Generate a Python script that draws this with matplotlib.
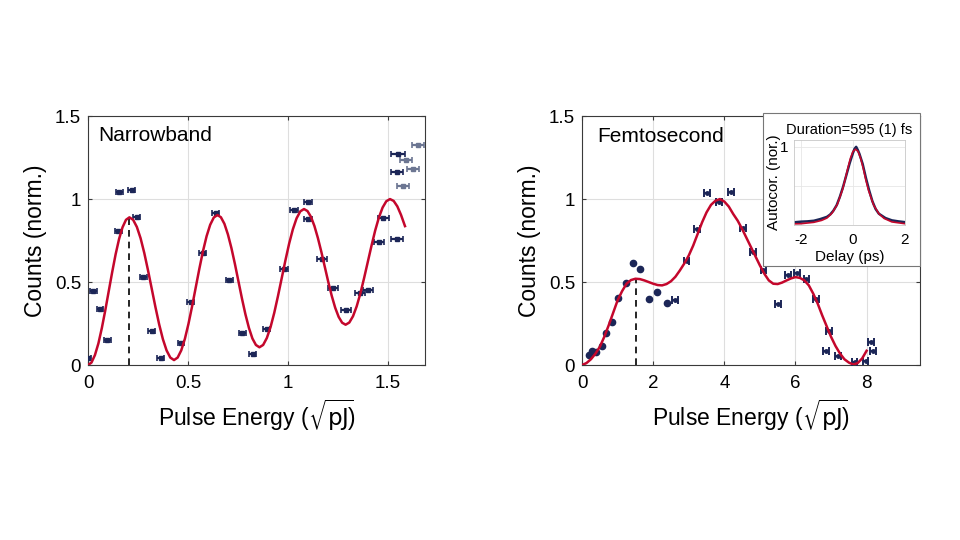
import numpy as np
import matplotlib
matplotlib.use('Agg')
import matplotlib.pyplot as plt
from matplotlib.patches import Rectangle

plt.rcParams['font.family'] = ['Liberation Sans', 'DejaVu Sans']

navy = '#1c2657'
grey = '#6c7692'
red = '#c4072c'

# ---- Narrowband data ----
nb_x = [0.0, 0.027, 0.06, 0.097, 0.152, 0.157, 0.218, 0.243, 0.277, 0.318, 0.363,
        0.465, 0.513, 0.573, 0.638, 0.707, 0.772, 0.823, 0.893, 0.98, 1.03, 1.098,
        1.098, 1.168, 1.227, 1.288, 1.36, 1.398, 1.455, 1.477, 1.543, 1.543, 1.552]
nb_y = [0.044, 0.446, 0.337, 0.15, 0.81, 1.04, 1.054, 0.893, 0.532, 0.205, 0.04,
        0.13, 0.381, 0.673, 0.918, 0.51, 0.195, 0.064, 0.217, 0.58, 0.934, 0.98,
        0.878, 0.637, 0.462, 0.331, 0.436, 0.452, 0.741, 0.887, 0.759, 1.163, 1.271]
nb_xerr = [0.017, 0.017, 0.017, 0.017, 0.017, 0.017, 0.017, 0.017, 0.017, 0.017, 0.017,
           0.017, 0.017, 0.017, 0.017, 0.017, 0.017, 0.017, 0.017, 0.02, 0.02, 0.02,
           0.02, 0.025, 0.025, 0.025, 0.025, 0.025, 0.025, 0.028, 0.03, 0.03, 0.035]
nb_grey_x = [1.59, 1.573, 1.627, 1.648]
nb_grey_y = [1.235, 1.08, 1.183, 1.323]
nb_grey_xerr = [0.03, 0.03, 0.03, 0.03]

nb_fit_x = [0, 0.0173, 0.0345, 0.0518, 0.069, 0.0863, 0.1035, 0.1208, 0.138, 0.1553,
            0.1725, 0.1898, 0.207,
            0.2256, 0.2442, 0.2628, 0.2813, 0.2999, 0.3185, 0.3371, 0.3557, 0.3743,
            0.3928, 0.4114, 0.43,
            0.4481, 0.4662, 0.4843, 0.5023, 0.5204, 0.5385, 0.5566, 0.5747, 0.5928,
            0.6108, 0.6289, 0.647,
            0.6645, 0.682, 0.6995, 0.717, 0.7345, 0.752, 0.7695, 0.787, 0.8045,
            0.822, 0.8395, 0.857,
            0.8756, 0.8942, 0.9128, 0.9313, 0.9499, 0.9685, 0.9871, 1.0057, 1.0243,
            1.0428, 1.0614, 1.08,
            1.0973, 1.1147, 1.132, 1.1493, 1.1667, 1.184, 1.2013, 1.2187, 1.236,
            1.2533, 1.2707, 1.288,
            1.3065, 1.325, 1.3435, 1.362, 1.3805, 1.399, 1.4175, 1.436, 1.4545,
            1.473, 1.4915, 1.51,
            1.5283, 1.5467, 1.565, 1.585]
nb_fit_y = [0, 0.015, 0.06, 0.13, 0.2225, 0.33, 0.445, 0.56, 0.6675, 0.76,
            0.83, 0.875, 0.89,
            0.875, 0.832, 0.764, 0.675, 0.571, 0.46, 0.349, 0.245, 0.156,
            0.088, 0.045, 0.03,
            0.045, 0.0886, 0.158, 0.2485, 0.354, 0.467, 0.58, 0.6855, 0.776,
            0.845, 0.889, 0.904,
            0.8905, 0.851, 0.787, 0.705, 0.609, 0.5055, 0.402, 0.306, 0.224,
            0.16, 0.121, 0.107,
            0.121, 0.163, 0.229, 0.315, 0.416, 0.5235, 0.631, 0.732, 0.818,
            0.884, 0.926, 0.94,
            0.928, 0.893, 0.838, 0.766, 0.682, 0.5915, 0.501, 0.417, 0.345,
            0.29, 0.255, 0.243,
            0.256, 0.294, 0.354, 0.432, 0.524, 0.6215, 0.719, 0.811, 0.889,
            0.949, 0.987, 1.0,
            0.989, 0.956, 0.905, 0.837]
nb_peak = (0.207, 0.89)

# ---- Femtosecond data ----
fs_dot_x = [0.197, 0.29, 0.393, 0.552, 0.674, 0.833, 1.02, 1.226, 1.42, 1.628,
            1.88, 2.096, 2.377]
fs_dot_y = [0.06, 0.086, 0.078, 0.116, 0.195, 0.257, 0.404, 0.492, 0.612, 0.58,
            0.398, 0.442, 0.376]
fs_bar_x = [2.61, 2.938, 3.237, 3.518, 3.846, 4.183, 4.528, 4.809, 5.1, 5.51,
            5.79, 6.04, 6.31, 6.57, 6.94, 6.85, 7.19, 7.66, 7.97, 8.13, 8.18]
fs_bar_y = [0.392, 0.627, 0.819, 1.038, 0.984, 1.044, 0.823, 0.683, 0.57, 0.367,
            0.542, 0.556, 0.516, 0.398, 0.205, 0.086, 0.054, 0.016, 0.024, 0.14, 0.086]

fs_fit_x = [0, 0.125, 0.25, 0.375, 0.5, 0.625, 0.75, 0.875, 1.0, 1.125, 1.25, 1.375,
            1.5, 1.625, 1.75, 1.875, 2.0, 2.125, 2.25, 2.375, 2.5, 2.625, 2.75, 2.875,
            3.0, 3.125, 3.25, 3.375, 3.5, 3.625, 3.75, 3.875, 4.0, 4.125, 4.25, 4.375,
            4.5, 4.625, 4.75, 4.875, 5.0, 5.125, 5.25, 5.375, 5.5, 5.625, 5.75, 5.875,
            6.0, 6.125, 6.25, 6.375, 6.5, 6.625, 6.75, 6.875, 7.0, 7.125, 7.25, 7.375,
            7.5, 7.625, 7.75, 7.875, 8.0]
fs_fit_y = [0, 0.012, 0.035, 0.068, 0.11, 0.17, 0.24, 0.315, 0.39, 0.445, 0.49, 0.512,
            0.52, 0.518, 0.51, 0.5, 0.49, 0.482, 0.48, 0.488, 0.505, 0.532, 0.57, 0.612,
            0.66, 0.72, 0.79, 0.86, 0.92, 0.965, 0.99, 1.0, 0.985, 0.955, 0.91, 0.87,
            0.82, 0.765, 0.71, 0.655, 0.6, 0.55, 0.51, 0.49, 0.488, 0.497, 0.51, 0.522,
            0.53, 0.525, 0.51, 0.48, 0.43, 0.37, 0.3, 0.235, 0.17, 0.115, 0.07, 0.035,
            0.015, 0.003, 0.012, 0.04, 0.086]
fs_peak = (1.52, 0.52)

# ---- Autocorrelation inset ----
ac_x = [-2.27, -2.0, -1.75, -1.5, -1.25, -1.0, -0.875, -0.75, -0.625, -0.5, -0.375,
        -0.25, -0.125, 0.0, 0.0625, 0.125, 0.1875, 0.25, 0.375, 0.5, 0.625, 0.75,
        0.875, 1.0, 1.25, 1.5, 1.75, 2.0]
ac_y = [0.03, 0.038, 0.042, 0.05, 0.072, 0.1, 0.13, 0.18, 0.25, 0.36, 0.49,
        0.64, 0.79, 0.92, 0.975, 1.0, 0.96, 0.91, 0.78, 0.6, 0.44, 0.3,
        0.2, 0.14, 0.085, 0.055, 0.042, 0.032]
ac_fit_x = [-2.27, -2.0, -1.5, -1.2, -1.0, -0.8, -0.6, -0.4, -0.3, -0.2, -0.1, 0.0,
            0.1, 0.2, 0.3, 0.4, 0.5, 0.6, 0.8, 1.0, 1.2, 1.5, 2.0]
ac_fit_y = [0.01, 0.012, 0.03, 0.055, 0.085, 0.15, 0.26, 0.45, 0.58, 0.72, 0.85, 0.94,
            0.97, 0.94, 0.85, 0.72, 0.57, 0.44, 0.25, 0.14, 0.08, 0.035, 0.012]


def style_axes(ax, tick_size=13.5):
    for s in ax.spines.values():
        s.set_color('#3a3a3a')
        s.set_linewidth(0.8)
    ax.tick_params(direction='in', top=True, right=True, length=3, width=0.8,
                   labelsize=tick_size, colors='#3a3a3a', labelcolor='black')
    ax.tick_params(axis='x', pad=7)
    ax.tick_params(axis='y', pad=5)
    ax.grid(True, color='#dedede', linewidth=0.8)
    ax.set_axisbelow(True)


xlab = r'Pulse Energy ($\sqrt{\mathrm{pJ}}\!$)'

fig = plt.figure(figsize=(9.6, 5.4), dpi=100)

# Narrowband panel
ax1 = fig.add_axes([0.0917, 0.324, 0.351, 0.461])
style_axes(ax1)
ax1.errorbar(nb_x, nb_y, xerr=nb_xerr, fmt='s', color=navy, ms=3, elinewidth=1.6,
             capsize=2.5, capthick=1.2, zorder=3)
ax1.errorbar(nb_grey_x, nb_grey_y, xerr=nb_grey_xerr, fmt='s', color=grey, ms=3,
             elinewidth=1.6, capsize=2.5, capthick=1.2, zorder=3)
ax1.plot(nb_fit_x, nb_fit_y, color=red, lw=1.8, zorder=4)
ax1.plot([nb_peak[0], nb_peak[0]], [0, nb_peak[1]], color='black', lw=1.2,
         ls=(0, (4, 3)), zorder=2)
ax1.set_xlim(0, 1.685)
ax1.set_ylim(0, 1.5)
ax1.set_xticks([0, 0.5, 1, 1.5])
ax1.set_xticklabels(['0', '0.5', '1', '1.5'])
ax1.set_yticks([0, 0.5, 1, 1.5])
ax1.set_yticklabels(['0', '0.5', '1', '1.5'])
ax1.set_xlabel(xlab, fontsize=16.5, labelpad=4)
ax1.set_ylabel('Counts (norm.)', fontsize=16.5, labelpad=6)
ax1.text(0.03, 0.9, 'Narrowband', transform=ax1.transAxes, fontsize=15,
         va='baseline', ha='left')

# Femtosecond panel
ax2 = fig.add_axes([0.6063, 0.324, 0.352, 0.461])
style_axes(ax2)
ax2.errorbar(fs_dot_x, fs_dot_y, xerr=0.04, fmt='o', color=navy, ms=4.5,
             elinewidth=1.2, capsize=0, zorder=3)
ax2.errorbar(fs_bar_x, fs_bar_y, xerr=0.08, fmt='o', color=navy, ms=2.5,
             elinewidth=1.6, capsize=3, capthick=1.4, zorder=3)
ax2.plot(fs_fit_x, fs_fit_y, color=red, lw=1.8, zorder=4)
ax2.plot([fs_peak[0], fs_peak[0]], [0, fs_peak[1]], color='black', lw=1.2,
         ls=(0, (4, 3)), zorder=2)
ax2.set_xlim(0, 9.5)
ax2.set_ylim(0, 1.5)
ax2.set_xticks([0, 2, 4, 6, 8])
ax2.set_yticks([0, 0.5, 1, 1.5])
ax2.set_yticklabels(['0', '0.5', '1', '1.5'])
ax2.set_xlabel(xlab, fontsize=16.5, labelpad=4)
ax2.set_ylabel('Counts (norm.)', fontsize=16.5, labelpad=6)
ax2.text(0.044, 0.895, 'Femtosecond', transform=ax2.transAxes, fontsize=15,
         va='baseline', ha='left')

# inset background box
box = Rectangle((0.795, 0.507), 0.163, 0.283, transform=fig.transFigure,
                facecolor='white', edgecolor='#777777', lw=0.8, zorder=10)
fig.patches.append(box)

ax3 = fig.add_axes([0.827, 0.584, 0.1156, 0.157])
ax3.set_zorder(11)
for s in ax3.spines.values():
    s.set_color('#c8c8c8')
    s.set_linewidth(0.6)
ax3.tick_params(direction='in', length=0, labelsize=11)
ax3.tick_params(axis='x', pad=6)
ax3.tick_params(axis='y', pad=4)
ax3.grid(True, color='#e6e6e6', linewidth=0.6)
ax3.set_axisbelow(True)
ax3.plot(ac_x, ac_y, color=navy, lw=1.8)
ax3.plot(ac_fit_x, ac_fit_y, color=red, lw=1.2)
ax3.set_xlim(-2.27, 2.0)
ax3.set_ylim(0, 1.09)
ax3.set_xticks([-2, 0, 2])
ax3.set_xticklabels(['-2', '0', '2'])
ax3.set_yticks([0.5, 1])
ax3.set_yticklabels(['', '1'])
ax3.set_xlabel('Delay (ps)', fontsize=11, labelpad=2)
ax3.set_ylabel('Autocor. (nor.)', fontsize=11, labelpad=-1)
ax3.set_title('Duration=595 (1) fs', fontsize=10.5, pad=4)

fig.savefig('out.png', dpi=100)
